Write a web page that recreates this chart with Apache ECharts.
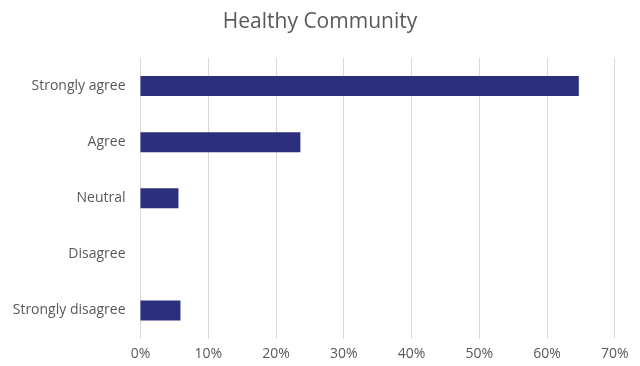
<!DOCTYPE html>
<html><head><meta charset="utf-8">
<script src="https://cdn.jsdelivr.net/npm/echarts@6/dist/echarts.min.js"></script>
<style>html,body{margin:0;padding:0;background:#fff}#c{width:640px;height:366px}</style>
</head><body><div id="c"></div>
<script>
const categories = ["Strongly agree", "Agree", "Neutral", "Disagree", "Strongly disagree"];
const values = [64.7, 23.6, 5.6, 0, 5.9];
const tickMax = 70;
const tickStep = 10;

const chart = echarts.init(document.getElementById('c'));
chart.setOption({
  animation: false,
  title: {
    text: 'Healthy Community', left: 'center', top: 7,
    textStyle: { fontFamily: 'Open Sans', fontSize: 21, fontWeight: 'normal', color: '#595959' }
  },
  grid: { left: 140.5, right: 25.3, top: 58, bottom: 27.5, containLabel: false },
  xAxis: {
    type: 'value', min: 0, max: tickMax, interval: tickStep,
    axisLabel: { formatter: '{value}%', color: '#595959', fontFamily: 'Open Sans', fontSize: 14, margin: 9 },
    splitLine: { lineStyle: { color: '#d9d9d9', width: 1 } },
    axisLine: { show: false }, axisTick: { show: false }
  },
  yAxis: {
    type: 'category', data: categories, inverse: true,
    axisLabel: { color: '#595959', fontFamily: 'Open Sans', fontSize: 14, margin: 15 },
    axisLine: { show: false }, axisTick: { show: false }
  },
  series: [{
    type: 'bar', data: values, barWidth: 20,
    itemStyle: { color: '#2B2F7C' }
  }]
});
</script></body></html>
